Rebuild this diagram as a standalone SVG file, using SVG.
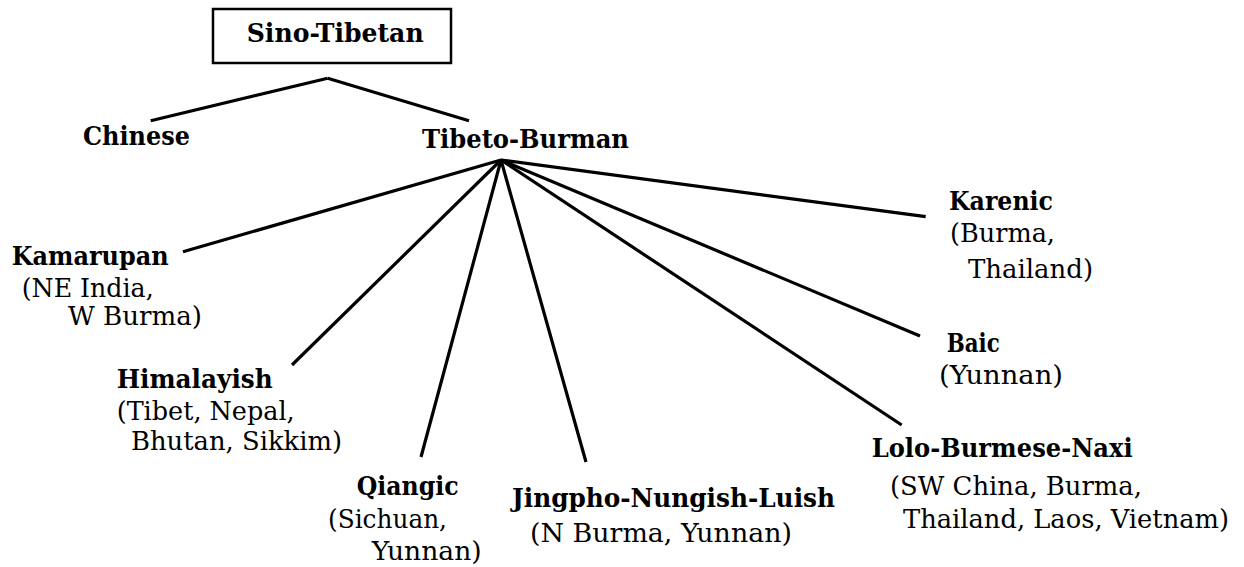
<svg xmlns="http://www.w3.org/2000/svg" width="1244" height="567" viewBox="0 0 1244 567">
<style>
.t{font-size:25.5px;fill:#000}
.b{font-weight:bold}
.ln{stroke:#000;stroke-width:3.2;fill:none;stroke-linecap:butt}
</style>
<rect width="1244" height="567" fill="#fff"/>
<g id="connectors">
<line class="ln" x1="327.7" y1="78.3" x2="150.7" y2="120.7"/>
<line class="ln" x1="327.7" y1="78.3" x2="469" y2="120.7"/>
<line class="ln" x1="501" y1="160" x2="183" y2="251.7"/>
<line class="ln" x1="501" y1="160" x2="292" y2="365"/>
<line class="ln" x1="501" y1="160" x2="421" y2="457"/>
<line class="ln" x1="501" y1="160" x2="586" y2="462"/>
<line class="ln" x1="501" y1="160" x2="901.7" y2="425"/>
<line class="ln" x1="501" y1="160" x2="920" y2="336"/>
<line class="ln" x1="501" y1="160" x2="925.7" y2="216.7"/>
</g>
<g font-family="DejaVu Serif, serif">
<g id="sino-tibetan">
<rect x="213" y="9" width="238" height="54" fill="#fff" stroke="#000" stroke-width="2.5"/>
<text class="t b" x="246.7" y="42.3" textLength="177" lengthAdjust="spacingAndGlyphs">Sino-Tibetan</text>
</g>
<g id="chinese">
<text class="t b" x="83" y="145" textLength="107" lengthAdjust="spacingAndGlyphs">Chinese</text>
</g>
<g id="tibeto-burman">
<text class="t b" x="422" y="148" textLength="207" lengthAdjust="spacingAndGlyphs">Tibeto-Burman</text>
</g>
<g id="kamarupan">
<text class="t b" x="11.7" y="265" textLength="157" lengthAdjust="spacingAndGlyphs">Kamarupan</text>
<text class="t" x="21.7" y="296.7" textLength="132" lengthAdjust="spacingAndGlyphs">(NE India,</text>
<text class="t" x="68" y="325" textLength="134" lengthAdjust="spacingAndGlyphs">W Burma)</text>
</g>
<g id="himalayish">
<text class="t b" x="116.7" y="388" textLength="156" lengthAdjust="spacingAndGlyphs">Himalayish</text>
<text class="t" x="116.7" y="420" textLength="178" lengthAdjust="spacingAndGlyphs">(Tibet, Nepal,</text>
<text class="t" x="131" y="450" textLength="211" lengthAdjust="spacingAndGlyphs">Bhutan, Sikkim)</text>
</g>
<g id="qiangic">
<text class="t b" x="356.7" y="495" textLength="102" lengthAdjust="spacingAndGlyphs">Qiangic</text>
<text class="t" x="328" y="528" textLength="119" lengthAdjust="spacingAndGlyphs">(Sichuan,</text>
<text class="t" x="371.7" y="560" textLength="110" lengthAdjust="spacingAndGlyphs">Yunnan)</text>
</g>
<g id="jingpho">
<text class="t b" x="512" y="507" textLength="323" lengthAdjust="spacingAndGlyphs">Jingpho-Nungish-Luish</text>
<text class="t" x="530" y="541.7" textLength="262" lengthAdjust="spacingAndGlyphs">(N Burma, Yunnan)</text>
</g>
<g id="karenic">
<text class="t b" x="949" y="210" textLength="104" lengthAdjust="spacingAndGlyphs">Karenic</text>
<text class="t" x="950" y="241.7" textLength="105" lengthAdjust="spacingAndGlyphs">(Burma,</text>
<text class="t" x="968" y="278" textLength="125" lengthAdjust="spacingAndGlyphs">Thailand)</text>
</g>
<g id="baic">
<text class="t b" x="946.7" y="351.7" textLength="53" lengthAdjust="spacingAndGlyphs">Baic</text>
<text class="t" x="939" y="384" textLength="124" lengthAdjust="spacingAndGlyphs">(Yunnan)</text>
</g>
<g id="lolo-burmese-naxi">
<text class="t b" x="871.7" y="456.7" textLength="261" lengthAdjust="spacingAndGlyphs">Lolo-Burmese-Naxi</text>
<text class="t" x="890" y="495" textLength="252" lengthAdjust="spacingAndGlyphs">(SW China, Burma,</text>
<text class="t" x="903" y="528" textLength="326" lengthAdjust="spacingAndGlyphs">Thailand, Laos, Vietnam)</text>
</g>
</g>
</svg>
